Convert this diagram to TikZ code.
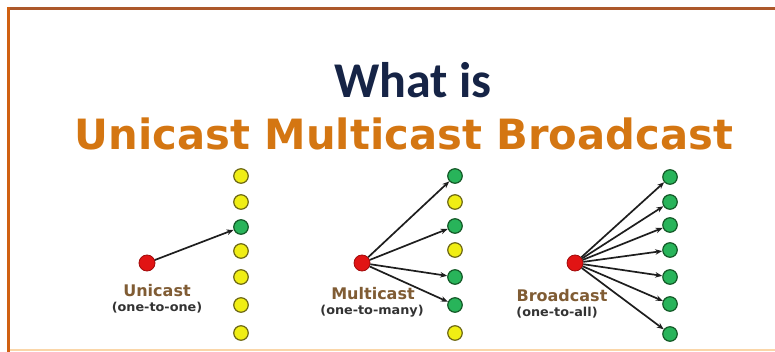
\documentclass[tikz,border=0pt]{standalone}
\usepackage{fontspec}
\usetikzlibrary{arrows.meta}
\newfontfamily\carl{Carlito}
\newfontfamily\dvs{DejaVu Sans}
\newfontfamily\dvsw[FakeStretch=1.04]{DejaVu Sans}
\definecolor{navy}{RGB}{22,36,70}
\definecolor{orng}{RGB}{212,118,18}
\definecolor{lblbrown}{RGB}{128,92,52}
\definecolor{redfill}{RGB}{225,20,20}
\definecolor{redline}{RGB}{160,10,10}
\definecolor{yelfill}{RGB}{240,238,20}
\definecolor{yelline}{RGB}{110,105,20}
\definecolor{grnfill}{RGB}{40,180,90}
\definecolor{grnline}{RGB}{20,90,40}
\definecolor{frametop}{RGB}{172,88,42}
\definecolor{frameleft}{RGB}{208,96,18}
\definecolor{framebot}{RGB}{250,214,168}
\definecolor{arrowcol}{RGB}{30,30,30}
\tikzset{
  srcdot/.style={circle, fill=redfill, draw=redline, line width=0.8pt, minimum size=16pt, inner sep=0pt},
  yeldot/.style={circle, fill=yelfill, draw=yelline, line width=1.2pt, minimum size=14.5pt, inner sep=0pt},
  grndot/.style={circle, fill=grnfill, draw=grnline, line width=1.2pt, minimum size=14.5pt, inner sep=0pt},
  sendarrow/.style={draw=arrowcol, line width=1.7pt, -{Stealth[length=7pt,width=5.5pt]}},
  castlabel/.style={font=\dvs\bfseries\fontsize{16}{18}\selectfont, text=lblbrown, inner sep=0pt},
  sublabel/.style={font=\dvsw\bfseries\fontsize{12.3}{14}\selectfont, text=black!80, inner sep=0pt}
}
\begin{document}
\begin{tikzpicture}[x=1pt,y=-1pt]
\useasboundingbox (0,0) rectangle (775,352);
% frame
\draw[framebot, line width=2pt] (8,350) -- (775,350);
\draw[frametop, line width=3pt] (7,9) -- (775,9);
\draw[frameleft, line width=3.5pt] (8.5,7.5) -- (8.5,352);
% titles
\node[font=\carl\bfseries\fontsize{50}{56}\selectfont, text=navy, anchor=base] (t1) at (413,98) {What is};
\node[font=\dvs\bfseries\fontsize{41.7}{46}\selectfont, text=orng, anchor=base] (t2) at (404,150) {Unicast Multicast Broadcast};
% Unicast
\node[srcdot] (us) at (147,263) {};
\foreach \i/\y/\s in {0/176/yeldot,1/202/yeldot,2/227/grndot,3/251/yeldot,4/277/yeldot,5/305/yeldot,6/333/yeldot}
  \node[\s] (u\i) at (241,\y) {};
\draw[sendarrow] (us) -- (u2);
\node[castlabel] (ul) at (157,291) {Unicast};
\node[sublabel] (usub) at (157,308) {(one-to-one)};
% Multicast
\node[srcdot] (ms) at (362,263) {};
\foreach \i/\y/\s in {0/176/grndot,1/202/yeldot,2/226/grndot,3/250/yeldot,4/277/grndot,5/305/grndot,6/333/yeldot}
  \node[\s] (m\i) at (455,\y) {};
\foreach \i in {0,2,4,5}
  \draw[sendarrow] (ms) -- (m\i);
\node[castlabel] (ml) at (373,294) {Multicast};
\node[sublabel] (msub) at (372,311) {(one-to-many)};
% Broadcast
\node[srcdot] (bs) at (575,263) {};
\foreach \i/\y in {0/177,1/202,2/225,3/250,4/277,5/304,6/334}
  \node[grndot] (b\i) at (670,\y) {};
\foreach \i in {0,...,6}
  \draw[sendarrow] (bs) -- (b\i);
\node[castlabel] (bl) at (562,296) {Broadcast};
\node[sublabel] (bsub) at (557,313) {(one-to-all)};
\end{tikzpicture}
\end{document}
